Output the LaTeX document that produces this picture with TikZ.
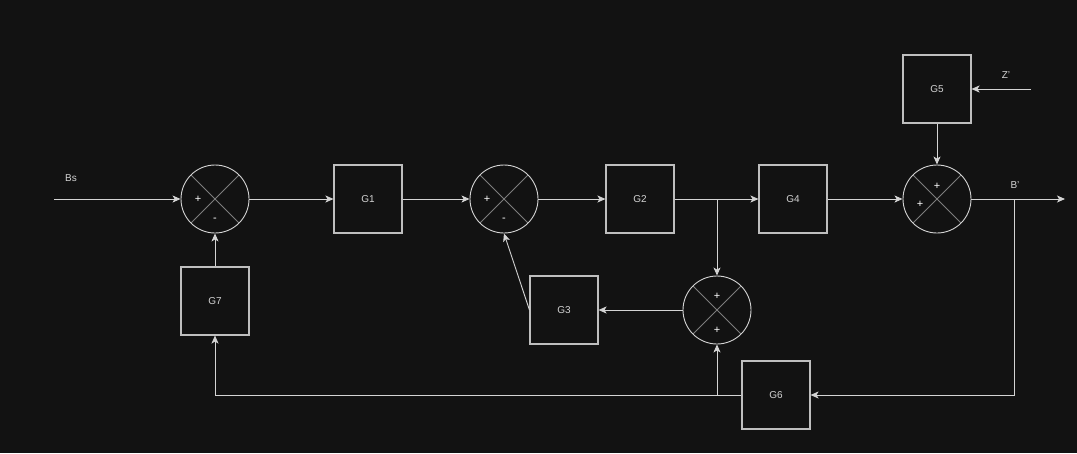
\documentclass[tikz,border=0pt]{standalone}
\usepackage{fontspec}
\setmainfont{Liberation Sans}
\usepackage{xcolor}
\usetikzlibrary{arrows.meta}
\definecolor{bgdark}{RGB}{18,18,18}
\definecolor{wireclr}{RGB}{212,212,212}
\definecolor{boxclr}{RGB}{190,190,190}
\definecolor{crossclr}{RGB}{125,125,125}

\begin{document}
\begin{tikzpicture}[x=1pt, y=-1pt,
  block/.style={draw=boxclr, line width=1.1pt, minimum width=68, minimum height=68, inner sep=0, text=wireclr, font=\fontsize{10}{12}\selectfont},
  sumnode/.style={circle, draw=wireclr, line width=0.9pt, minimum size=68, inner sep=0, path picture={\draw[crossclr, line width=1pt] (path picture bounding box.north west) -- (path picture bounding box.south east) (path picture bounding box.north east) -- (path picture bounding box.south west);}},
  sign/.style={text=white, inner sep=0, font=\fontsize{11}{12}\selectfont},
  lbl/.style={text=wireclr, inner sep=0, font=\fontsize{10}{12}\selectfont},
  wire/.style={draw=wireclr, line width=0.9pt, -{Stealth[length=8, width=7, inset=2]}}]
\fill[bgdark] (0,0) rectangle (1077,453);
\useasboundingbox (0,0) rectangle (1077,453);
%main path
\coordinate (bsin) at (54,199);
\node[sumnode] (s1) at (215,199) {};
\node[block] (g1) at (368,199) {G1};
\node[sumnode] (s2) at (504,199) {};
\node[block] (g2) at (640,199) {G2};
\node[block] (g4) at (793,199) {G4};
\node[sumnode] (s4) at (937,199) {};
\coordinate (bout) at (1065,199);
\node[block] (g5) at (937,89) {G5};
\coordinate (zin) at (1031,89);
\node[sumnode] (s3) at (717,310) {};
\node[block] (g3) at (564,310) {G3};
\node[block] (g6) at (776,395) {G6};
\node[block] (g7) at (215,301) {G7};
\coordinate (b1) at (717,199);
\coordinate (b2) at (1014,199);
\coordinate (b3) at (717,395);
%labels
\node[lbl] (lbs) at (71,178) {Bs};
\node[lbl] (lz) at (1006,75) {Z'};
\node[lbl] (lb) at (1015,185) {B'};
\node[sign] (p1) at (198,199) {+};
\node[sign] (m1) at (215,220) {-};
\node[sign] (p2) at (487,199) {+};
\node[sign] (m2) at (504,220) {-};
\node[sign] (p3) at (717,296) {+};
\node[sign] (p4) at (717,330) {+};
\node[sign] (p5) at (937,186) {+};
\node[sign] (p6) at (920,204) {+};
%connectors
\draw[wire] (bsin) -- (s1);
\draw[wire] (s1) -- (g1);
\draw[wire] (g1) -- (s2);
\draw[wire] (s2) -- (g2);
\draw[wire] (g2) -- (g4);
\draw[wire] (g4) -- (s4);
\draw[wire] (s4) -- (bout);
\draw[wire] (zin) -- (g5);
\draw[wire] (g5) -- (s4);
\draw[wire] (b1) -- (s3);
\draw[wire] (s3) -- (g3);
\draw[wire] (g3.west) -- (s2.south);
\draw[wire] (b2) |- (g6);
\draw[wire] (g6.west) -| (g7.south);
\draw[wire] (b3) -- (s3);
\draw[wire] (g7) -- (s1);
\end{tikzpicture}
\end{document}
